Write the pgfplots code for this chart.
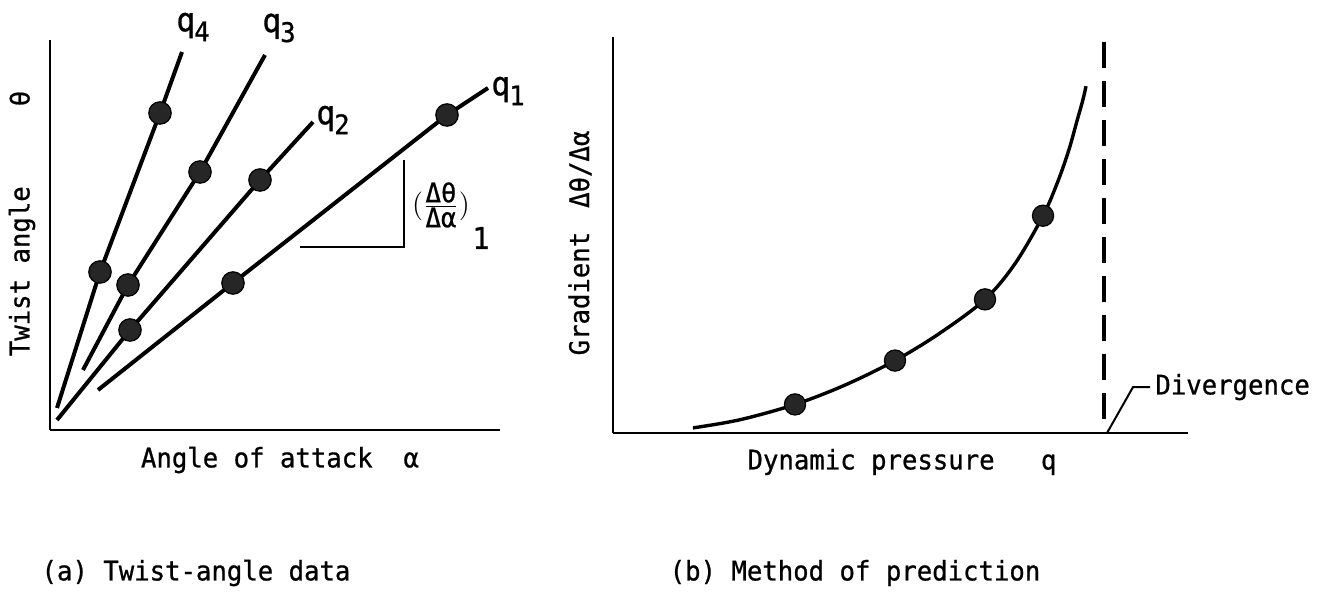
\documentclass[border=0pt]{standalone}
\usepackage{pgfplots}
\pgfplotsset{compat=1.18}
\usepackage{fontspec}
\setmainfont{DejaVu Sans Mono}[FakeBold=0.8,FakeStretch=0.95]
\newcommand{\ql}[1]{{\fontsize{16.5}{16}\selectfont q}\kern-0.5pt\raisebox{-5pt}{\fontsize{13.5}{13}\selectfont #1}}
\begin{document}
\fontsize{13.5}{15}\selectfont
\begin{tikzpicture}
\useasboundingbox (0,0) rectangle (663pt,299pt);
\pgfplotsset{
  base/.style={scale only axis, axis lines=left, axis line style={-, line width=1.4pt},
    xtick=\empty, ytick=\empty, clip=false, anchor=south west},
  ln/.style={black, line width=2pt, mark=none},
  dot/.style={only marks, mark=*, mark size=5.6pt, mark options={fill=black!85, draw=black, line width=0.6pt}},
}
% (a) Twist-angle data
\begin{axis}[base, at={(25pt,84pt)}, width=225pt, height=195pt,
  xmin=0, xmax=450, ymin=0, ymax=390]
\addplot[ln] coordinates {(7,22) (50,158) (110,317) (132,378)};
\addplot[ln] coordinates {(33,60) (78,145) (150,258) (215,375)};
\addplot[ln] coordinates {(7,10) (80,100) (210,250) (263,308)};
\addplot[ln] coordinates {(48,40) (183,147) (397,315) (438,342)};
\addplot[dot] coordinates {(50,158) (110,317)};
\addplot[dot] coordinates {(78,145) (150,258)};
\addplot[dot] coordinates {(80,100) (210,250)};
\addplot[dot] coordinates {(183,147) (397,315)};
\addplot[black, line width=1pt, mark=none] coordinates {(250,183) (354,183) (354,270)};
\node at (axis cs:143,403) {\ql{4}};
\node at (axis cs:229,402) {\ql{3}};
\node at (axis cs:283,310) {\ql{2}};
\node at (axis cs:458,339) {\ql{1}};
\node at (axis cs:391,225) {\fontsize{13.5}{13}\selectfont$\Bigl(\frac{\hbox{Δθ}}{\hbox{Δα}}\Bigr)$};
\node at (axis cs:431,192) {\fontsize{15}{15}\selectfont 1};
\end{axis}
% (b) Method of prediction
\begin{axis}[base, at={(306.5pt,82.5pt)}, width=287.5pt, height=194pt,
  xmin=0, xmax=575, ymin=0, ymax=388]
\addplot[black, line width=1.7pt, smooth, tension=0.55, mark=none] coordinates {
  (80,5) (127,13) (182,28) (232,47) (282,71) (327,98) (372,131) (402,166)
  (430,213) (445,247) (456,278) (464,306) (470,327) (473,340)};
\addplot[dot, mark size=5.3pt] coordinates {(182,28) (282,71) (372,131) (430,213)};
\addplot[black, line width=2.2pt, dash pattern=on 13pt off 6.5pt, mark=none] coordinates {(491,383) (491,0)};
\addplot[black, line width=1pt, mark=none] coordinates {(494,0) (520,45) (537,45)};
\node[anchor=west, inner sep=0pt] at (axis cs:542,45) {Divergence};
\end{axis}
% labels
\node at (140pt,69pt) {Angle of attack\ \ α};
\node at (451pt,68pt) {Dynamic pressure\ \ \ q};
\node[rotate=90] at (11pt,187.25pt) {Twist angle\hspace{40pt}θ};
\node[rotate=90] at (290pt,177.5pt) {Gradient\hspace{12pt}Δθ/Δα};
\node at (98pt,12.5pt) {(a) Twist-angle data};
\node at (427.5pt,12.5pt) {(b) Method of prediction};
\end{tikzpicture}
\end{document}
